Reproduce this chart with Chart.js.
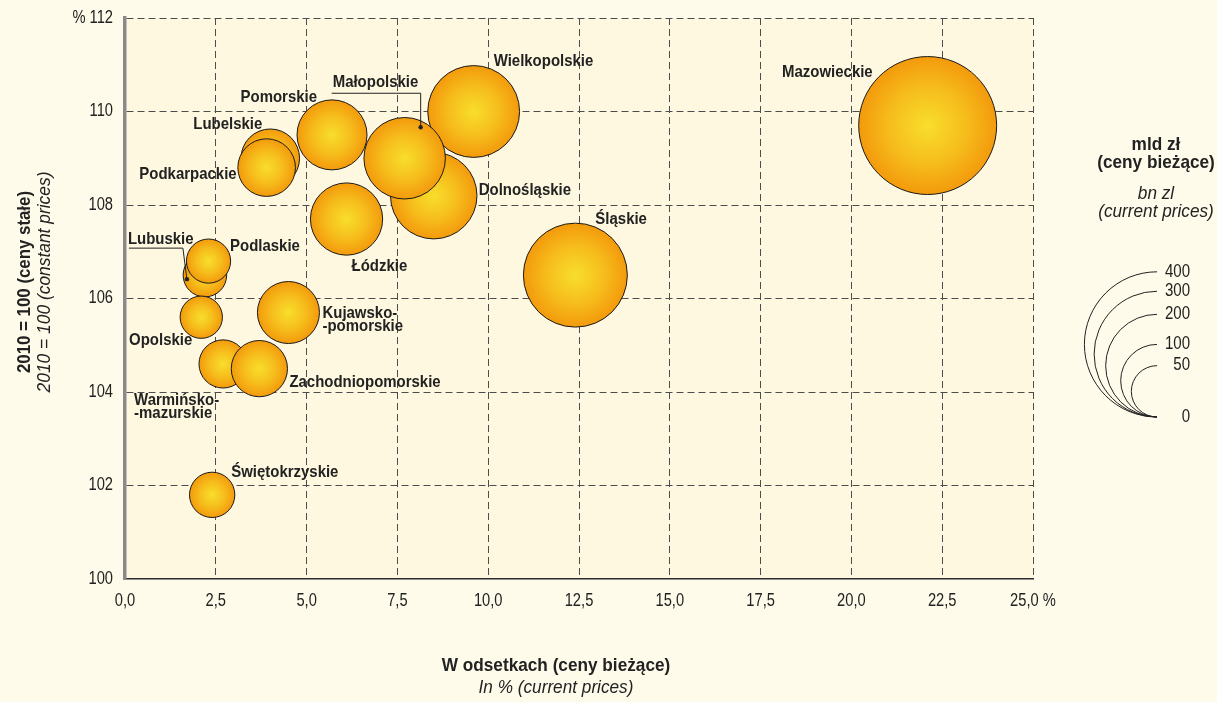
<!DOCTYPE html>
<html>
<head>
<meta charset="utf-8">
<script src="https://cdn.jsdelivr.net/npm/chart.js@4.4.0/dist/chart.umd.min.js"></script>
<style>
  html, body { margin: 0; padding: 0; background: #fefbea; }
  #wrap { width: 1217px; height: 702px; }
</style>
</head>
<body>
<div id="wrap"><canvas id="gdp-chart" width="1217" height="702"></canvas></div>
<script>
// regions in drawing order (later ones sit on top)
var regions = ['Mazowieckie', 'Śląskie', 'Wielkopolskie', 'Dolnośląskie', 'Małopolskie', 'Łódzkie',
    'Pomorskie', 'Lubelskie', 'Podkarpackie', 'Kujawsko-\n-pomorskie', 'Lubuskie', 'Podlaskie',
    'Opolskie', 'Warmińsko-\n-mazurskie', 'Zachodniopomorskie', 'Świętokrzyskie'];
// share of national GDP, % (current prices)
var shares = [22.1, 12.4, 9.6, 8.5, 7.7, 6.1, 5.7, 4.0, 3.9, 4.5, 2.2, 2.3, 2.1, 2.7, 3.7, 2.4];
// GDP index, 2010 = 100 (constant prices)
var indices = [109.7, 106.5, 110.0, 108.2, 109.0, 107.7, 109.5, 109.0, 108.8, 105.7, 106.5, 106.8,
    105.6, 104.6, 104.5, 101.8];
// GDP, bn zl (current prices) -> bubble area
var values = [361, 205, 160, 142, 126, 99, 93, 65, 63, 73, 36, 37, 34, 44, 60, 39];

var xTicks = [0, 2.5, 5, 7.5, 10, 12.5, 15, 17.5, 20, 22.5, 25];
var yTicks = [100, 102, 104, 106, 108, 110, 112];
var legendSizes = [400, 300, 200, 100, 50, 0];

// layout bits
var PX_PER_ROOT = 3.63;   // bubble radius in px per sqrt(bn zl)
var SANS = '"Liberation Sans", Arial, sans-serif';
var INK = '#222222';

// label anchor relative to bubble centre: dx, dy, alignment
var labelPos = [
    [-55, -53, 'right'], [20, -56, 'left'], [20, -50, 'left'], [45, -5, 'left'],
    [-72, -76, 'left'], [5, 47, 'left'], [-15, -38, 'right'], [-8, -34, 'right'],
    [-30, 7, 'right'], [34, 1, 'left'], [-77, -36, 'left'], [21.5, -15, 'left'],
    [-9, 23.5, 'right'], [-89, 36.5, 'left'], [30, 13.5, 'left'], [19, -22.5, 'left']
];
// leader lines (relative to bubble centre), ending in a dot
var leaders = {
    4: [[-73, -65], [16, -65], [16, -31]],
    10: [[-76, -27], [-22, -27], [-18, 4]]
};

function fmtX(v) {
    var s = v.toFixed(1).replace('.', ',');
    return v === 25 ? s + ' %' : s;
}

function fmtY(v) {
    return v === 112 ? '% 112' : String(v);
}

// condensed text: regular face squeezed horizontally
function narrowText(ctx, text, x, y, font, sx, align, rot) {
    ctx.save();
    ctx.font = font;
    ctx.textAlign = align;
    ctx.textBaseline = 'middle';
    ctx.translate(x, y);
    if (rot) ctx.rotate(rot);
    ctx.scale(sx, 1);
    ctx.fillText(text, 0, 0);
    ctx.restore();
}

function bubbleFill(c) {
    var chart = c.chart;
    if (c.type !== 'data' || !chart.chartArea) return '#f5b016';
    var p = c.raw;
    var x = chart.scales.x.getPixelForValue(p.x);
    var y = chart.scales.y.getPixelForValue(p.y);
    var g = chart.ctx.createRadialGradient(x, y, 0, x, y, p.r);
    g.addColorStop(0, '#f8de2c');
    g.addColorStop(0.55, '#f6bd1c');
    g.addColorStop(1, '#f39a0c');
    return g;
}

var plotBackground = {
    id: 'plotBackground',
    beforeDraw: function (chart) {
        var ctx = chart.ctx, a = chart.chartArea;
        ctx.save();
        ctx.fillStyle = '#fefbea';
        ctx.fillRect(0, 0, chart.width, chart.height);
        ctx.fillStyle = '#fdf8df';
        ctx.fillRect(a.left, a.top, a.right - a.left, a.bottom - a.top);
        ctx.restore();
    }
};

var decorations = {
    id: 'decorations',
    afterDatasetsDraw: function (chart) {
        var ctx = chart.ctx;
        var sx = chart.scales.x, sy = chart.scales.y;
        var labelFont = 'bold 17px ' + SANS;
        var tickFont = '17.5px ' + SANS;
        ctx.save();
        ctx.fillStyle = INK;
        ctx.strokeStyle = INK;

        // tick labels from the scales' own ticks
        sx.ticks.forEach(function (t) {
            narrowText(ctx, fmtX(t.value), sx.getPixelForValue(t.value), chart.chartArea.bottom + 22, tickFont, 0.84, 'center');
        });
        sy.ticks.forEach(function (t) {
            narrowText(ctx, fmtY(t.value), chart.chartArea.left - 12, sy.getPixelForValue(t.value), tickFont, 0.84, 'right');
        });

        // bubble labels
        regions.forEach(function (name, i) {
            var cx = sx.getPixelForValue(shares[i]);
            var cy = sy.getPixelForValue(indices[i]);
            var pos = labelPos[i];
            name.split('\n').forEach(function (line, k) {
                narrowText(ctx, line, cx + pos[0], cy + pos[1] + k * 12.5, labelFont, 0.88, pos[2]);
            });
            var pts = leaders[i];
            if (pts) {
                ctx.lineWidth = 1;
                ctx.beginPath();
                pts.forEach(function (p, k) {
                    if (k === 0) ctx.moveTo(cx + p[0], cy + p[1]);
                    else ctx.lineTo(cx + p[0], cy + p[1]);
                });
                ctx.stroke();
                var end = pts[pts.length - 1];
                ctx.beginPath();
                ctx.arc(cx + end[0], cy + end[1], 2.2, 0, Math.PI * 2);
                ctx.fill();
            }
        });

        // axis titles
        var titleBold = 'bold 18.5px ' + SANS;
        var titleItalic = 'italic 18.5px ' + SANS;
        narrowText(ctx, 'W odsetkach (ceny bieżące)', 556, 666, titleBold, 0.93, 'center');
        narrowText(ctx, 'In % (current prices)', 556, 688, titleItalic, 0.93, 'center');
        narrowText(ctx, '2010 = 100 (ceny stałe)', 25, 282, titleBold, 0.91, 'center', -Math.PI / 2);
        narrowText(ctx, '2010 = 100 (constant prices)', 45, 282, titleItalic, 0.94, 'center', -Math.PI / 2);

        // size legend
        narrowText(ctx, 'mld zł', 1156, 145, titleBold, 0.93, 'center');
        narrowText(ctx, '(ceny bieżące)', 1156, 163, titleBold, 0.93, 'center');
        narrowText(ctx, 'bn zl', 1156, 194, titleItalic, 0.93, 'center');
        narrowText(ctx, '(current prices)', 1156, 212, titleItalic, 0.93, 'center');

        var baseX = 1157, baseY = 417;
        ctx.lineWidth = 1;
        legendSizes.forEach(function (v) {
            var r = PX_PER_ROOT * Math.sqrt(v);
            if (r > 0) {
                ctx.beginPath();
                ctx.arc(baseX, baseY - r, r, -Math.PI / 2, Math.PI / 2, true);
                ctx.stroke();
            }
            narrowText(ctx, String(v), 1190, baseY - 2 * r, tickFont, 0.86, 'right');
        });
        ctx.restore();
    }
};

var ctx = document.getElementById('gdp-chart');
new Chart(ctx.getContext('2d'), {
    type: 'bubble',
    data: {
        datasets: [{
            data: regions.map(function (name, i) {
                return { x: shares[i], y: indices[i], r: PX_PER_ROOT * Math.sqrt(values[i]) };
            }),
            backgroundColor: bubbleFill,
            borderColor: '#1a1a1a',
            borderWidth: 1
        }]
    },
    options: {
        responsive: false,
        animation: false,
        events: [],
        layout: { autoPadding: false, padding: { left: 0, right: 184, top: 18, bottom: 0 } },
        plugins: {
            legend: { display: false },
            tooltip: { enabled: false }
        },
        scales: {
            x: {
                type: 'linear',
                min: 0,
                max: 25,
                afterBuildTicks: function (s) { s.ticks = xTicks.map(function (v) { return { value: v }; }); },
                afterFit: function (s) { s.height = 123; },
                ticks: { display: false },
                grid: {
                    drawTicks: false,
                    lineWidth: 1,
                    color: function (c) { return c.tick && c.tick.value === 0 ? 'rgba(0,0,0,0)' : '#4d4d4d'; }
                },
                border: { display: true, color: '#2b2b2b', width: 1.5, dash: [7, 4] }
            },
            y: {
                type: 'linear',
                min: 100,
                max: 112,
                afterBuildTicks: function (s) { s.ticks = yTicks.map(function (v) { return { value: v }; }); },
                afterFit: function (s) { s.width = 125; },
                ticks: { display: false },
                grid: {
                    drawTicks: false,
                    lineWidth: 1,
                    color: function (c) { return c.tick && c.tick.value === 100 ? 'rgba(0,0,0,0)' : '#4d4d4d'; }
                },
                border: { display: true, color: '#8a8a8a', width: 3.5, dash: [7, 4] }
            }
        }
    },
    plugins: [plotBackground, decorations]
});
</script>
</body>
</html>
